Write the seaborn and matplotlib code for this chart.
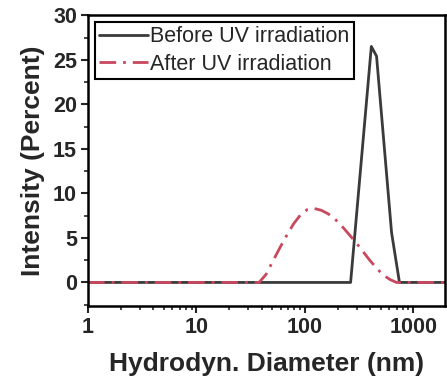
import matplotlib.pyplot as plt
import matplotlib.ticker as mticker
import seaborn as sns
import pandas as pd

# Before UV irradiation
before_d = [1, 10, 100, 264, 410, 458, 630, 745, 1000, 2000]
before_i = [0, 0, 0, 0, 26.5, 25.4, 5.6, 0, 0, 0]

# After UV irradiation
after_d = [1, 10, 37.8, 43.8, 50.7, 58.8, 68.1, 78.8, 91.3, 105.7, 122.4, 141.8,
           164.2, 190.1, 220.2, 255.0, 295.3, 342.0, 396.0, 458.7, 531.2, 615.1,
           700, 1000, 2000]
after_i = [0, 0, 0, 0.9, 2.4, 3.9, 5.3, 6.6, 7.6, 8.2, 8.3, 8.1,
           7.7, 7.1, 6.3, 5.4, 4.5, 3.5, 2.5, 1.6, 0.8, 0.3,
           0, 0, 0]

labels = ["Before UV irradiation", "After UV irradiation"]

df = pd.concat([
    pd.DataFrame({"d": before_d, "i": before_i, "s": labels[0]}),
    pd.DataFrame({"d": after_d, "i": after_i, "s": labels[1]}),
])

sns.set_style("ticks")
plt.rcParams['font.family'] = ['Liberation Sans', 'DejaVu Sans']

fig, ax = plt.subplots(figsize=(4.47, 3.82), dpi=100)
sns.lineplot(data=df, x="d", y="i", hue="s", style="s",
             palette={labels[0]: "#3a3a3a", labels[1]: "#c8485e"},
             dashes={labels[0]: "", labels[1]: (6, 2.5, 1, 2.5)},
             linewidth=2, ax=ax, sort=False)

ax.set_xscale("log")
ax.set_xlim(1, 1950)
ax.set_ylim(-2.6, 30)
ax.set_yticks([0, 5, 10, 15, 20, 25, 30])
ax.yaxis.set_minor_locator(mticker.MultipleLocator(2.5))
ax.xaxis.set_major_formatter(mticker.FuncFormatter(lambda v, p: f"{v:g}"))
ax.tick_params(which="major", length=5, width=1.5, direction="out", labelsize=15.5, pad=3)
ax.tick_params(which="minor", length=3, width=1.2, direction="out")
for lab in ax.get_xticklabels() + ax.get_yticklabels():
    lab.set_fontweight("bold")
for sp in ax.spines.values():
    sp.set_linewidth(1.8)
    sp.set_color("black")

ax.set_xlabel("Hydrodyn. Diameter (nm)", fontsize=19, fontweight="bold", labelpad=10)
ax.set_ylabel("Intensity (Percent)", fontsize=19, fontweight="bold", labelpad=6)

leg = ax.legend(loc="upper left", fontsize=15.5, frameon=True, fancybox=False,
                handlelength=2.3, handletextpad=0.1, borderpad=0.2,
                labelspacing=0.3, borderaxespad=0.3)
leg.get_frame().set_edgecolor("black")
leg.get_frame().set_linewidth(1.5)
leg.get_frame().set_alpha(1)

plt.subplots_adjust(left=0.197, right=0.995, top=0.96, bottom=0.2)
plt.savefig("out.png", dpi=100)
